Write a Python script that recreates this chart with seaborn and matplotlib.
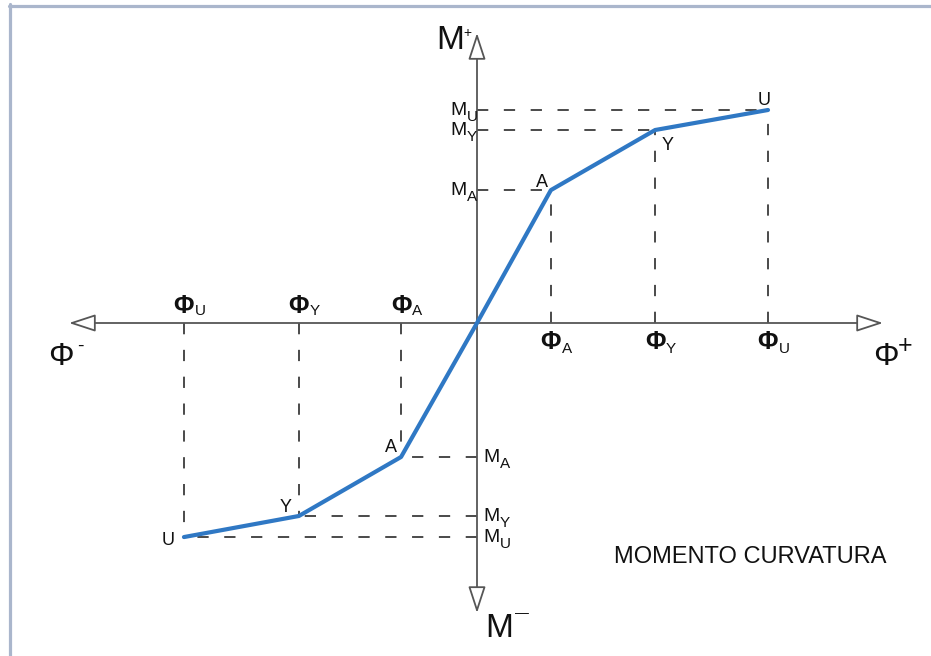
import matplotlib
matplotlib.use("Agg")
import matplotlib.pyplot as plt
from matplotlib.lines import Line2D
import pandas as pd
import seaborn as sns

# Moment-curvature envelope, normalised by the ultimate values
point_names = ["A", "Y", "U"]
curv_pos = [0.254, 0.612, 1.000]
mom_pos = [0.624, 0.906, 1.000]
curv_neg = [-0.261, -0.612, -1.007]
mom_neg = [-0.629, -0.906, -1.005]

curve = pd.DataFrame({
    "curvatura": curv_neg[::-1] + [0.0] + curv_pos,
    "momento": mom_neg[::-1] + [0.0] + mom_pos,
})

sns.set_style("white")
plt.rcParams["font.family"] = ["Liberation Sans", "DejaVu Sans"]

# canvas geometry (pixels)
W, H = 931, 656
X0, Y0 = 477, 323          # origin of the diagram
SX, SY = 291, 213          # pixels per normalised unit

def px_x(p):
    return (p - X0) / SX

def px_y(p):
    return (Y0 - p) / SY

fig = plt.figure(figsize=(W / 100, H / 100), dpi=100)
ax = fig.add_axes([0, 0, 1, 1])
ax.set_xlim(px_x(0), px_x(W))
ax.set_ylim(px_y(H), px_y(0))
ax.axis("off")

axis_col = "#565656"
dash_col = "#4a4a4a"
txt_col = "#111111"
blue = "#2f78c4"

# thin frame along the top and left edges
fig.add_artist(Line2D([8.5 / W, 1], [1 - 5.5 / H] * 2, transform=fig.transFigure,
                      color="#aab6cc", lw=2.3))
fig.add_artist(Line2D([9.5 / W] * 2, [0, 1 - 4 / H], transform=fig.transFigure,
                      color="#aab6cc", lw=2.3))

# axes with open arrow heads
tips = {
    "left": (px_x(69), 0.0),
    "right": (px_x(883), 0.0),
    "top": (0.0, px_y(33)),
    "bottom": (0.0, px_y(613)),
}
for tip in tips.values():
    ax.annotate("", xy=tip, xytext=(0.0, 0.0),
                arrowprops=dict(arrowstyle="-|>,head_length=16.5,head_width=5.4",
                                mutation_scale=1, fc="white", ec=axis_col,
                                lw=1.3, shrinkA=0, shrinkB=0),
                zorder=2)

# dashed guides from each characteristic point to the axes
dash_style = (0, (5.8, 8.0))
for cx, my in list(zip(curv_pos, mom_pos)) + list(zip(curv_neg, mom_neg)):
    ax.plot([0, cx], [my, my], color=dash_col, lw=1.4, ls=dash_style, zorder=1)
    ax.plot([cx, cx], [0, my], color=dash_col, lw=1.4, ls=dash_style, zorder=1)

# the envelope itself
sns.lineplot(data=curve, x="curvatura", y="momento", sort=False, estimator=None,
             color=blue, lw=3.0, ax=ax, zorder=4)
ax.set_xlabel("")
ax.set_ylabel("")
ax.axis("off")


def label(s, xy, dx, dy, size, ha="left", va="baseline", family=None, weight="normal"):
    kw = dict(xy=xy, xytext=(dx, dy), textcoords="offset pixels",
              fontsize=size, ha=ha, va=va, color=txt_col, zorder=5,
              fontweight=weight)
    if family is not None:
        kw["family"] = family
    ax.annotate(s, **kw)


sub_family = ["Liberation Sans Narrow", "Liberation Sans"]

# axis titles
label("Φ", tips["left"], -21, -42, 23)
label("-", tips["left"], 8, -28, 14)
label("Φ", tips["right"], -10, -42, 23)
label("+", tips["right"], 22, -30, 18, ha="center")
label("M", tips["top"], -41, -16, 24)
label("+", tips["top"], -10, -4, 10, ha="center")
label("M", tips["bottom"], 8, -24, 24)
label("—", tips["bottom"], 38, -4, 10)

# curvature labels on the horizontal axis
for name, cx in zip(point_names, curv_neg):
    label("Φ", (cx, 0), 0, 10, 18, ha="center", weight="bold")
    label(name, (cx, 0), 11, 8, 11, family=sub_family)
for name, cx in zip(point_names, curv_pos):
    label("Φ", (cx, 0), 0, -26, 18, ha="center", weight="bold")
    label(name, (cx, 0), 11, -30, 11, family=sub_family)

# moment labels on the vertical axis
for name, my in zip(point_names, mom_pos):
    label("M", (0, my), -10, -5, 14, ha="right")
    label(name, (0, my), -10, -11, 11, family=sub_family)
for name, my in zip(point_names, mom_neg):
    label("M", (0, my), 6, -5, 14)
    label(name, (0, my), 23, -11, 11, family=sub_family)

# point names on the curve
pos_offsets = {"A": (-3, 3, "right"), "Y": (7, -20, "left"), "U": (-4, 5, "center")}
neg_offsets = {"A": (-4, 5, "right"), "Y": (-7, 4, "right"), "U": (-9, -8, "right")}
for name, cx, my in zip(point_names, curv_pos, mom_pos):
    dx, dy, ha = pos_offsets[name]
    label(name, (cx, my), dx, dy, 13, ha=ha)
for name, cx, my in zip(point_names, curv_neg, mom_neg):
    dx, dy, ha = neg_offsets[name]
    label(name, (cx, my), dx, dy, 13, ha=ha)

ax.text(px_x(614), px_y(563), "MOMENTO CURVATURA", fontsize=17, color=txt_col,
        ha="left", va="baseline")

fig.savefig("out.png", dpi=100, facecolor="white")
